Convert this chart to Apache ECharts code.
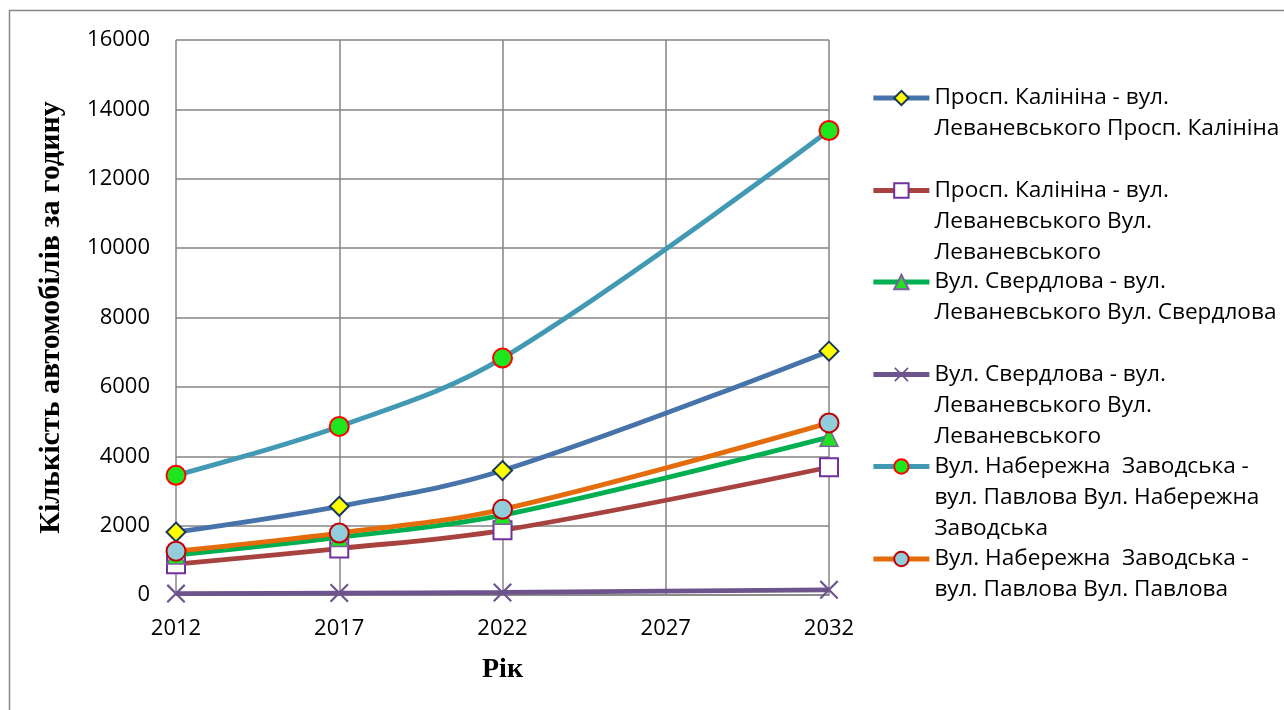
<!DOCTYPE html>
<html>
<head>
<meta charset="utf-8">
<script src="https://cdn.jsdelivr.net/npm/echarts@6/dist/echarts.min.js"></script>
<style>
  html, body { margin: 0; padding: 0; background: #ffffff; }
  #chart { width: 1284px; height: 710px; }
</style>
</head>
<body>
<div id="chart"></div>
<script>
// Years of observation / forecast
const years = [2012, 2017, 2022, 2032];
const yearTicks = [2012, 2017, 2022, 2027, 2032];

// Traffic volume, cars per hour
const kalininaKalinina = [1815, 2557, 3587, 7030];
const kalininaLevanevskoho = [890, 1340, 1865, 3683];
const sverdlovaSverdlova = [1150, 1660, 2300, 4550];
const sverdlovaLevanevskoho = [40, 55, 75, 150];
const naberezhnaNaberezhna = [3450, 4860, 6830, 13390];
const naberezhnaPavlova = [1264, 1787, 2470, 4961];

// Series names and their wrapped legend captions
const names = [
  'Просп. Калініна - вул. Леваневського Просп. Калініна',
  'Просп. Калініна - вул. Леваневського Вул. Леваневського',
  'Вул. Свердлова - вул. Леваневського Вул. Свердлова',
  'Вул. Свердлова - вул. Леваневського Вул. Леваневського',
  'Вул. Набережна  Заводська - вул. Павлова Вул. Набережна Заводська',
  'Вул. Набережна  Заводська - вул. Павлова Вул. Павлова'
];
const captions = [
  ['Просп. Калініна - вул.', 'Леваневського Просп. Калініна'],
  ['Просп. Калініна - вул.', 'Леваневського Вул.', 'Леваневського'],
  ['Вул. Свердлова - вул.', 'Леваневського Вул. Свердлова'],
  ['Вул. Свердлова - вул.', 'Леваневського Вул.', 'Леваневського'],
  ['Вул. Набережна  Заводська -', 'вул. Павлова Вул. Набережна', 'Заводська'],
  ['Вул. Набережна  Заводська -', 'вул. Павлова Вул. Павлова']
];

const yTitle = 'Кількість автомобілів за годину';
const xTitle = 'Рік';

const values = [kalininaKalinina, kalininaLevanevskoho, sverdlovaSverdlova,
  sverdlovaLevanevskoho, naberezhnaNaberezhna, naberezhnaPavlova];

const crossPath = 'path://M0,0.8L0.8,0L10,9.2L9.2,10Z M9.2,0L10,0.8L0.8,10L0,9.2Z';

const looks = [
  { line: '#4674AA', symbol: 'diamond', size: 19, fill: '#FFFF00', border: '#17375E', bw: 2 },
  { line: '#A8423F', symbol: 'rect', size: 18, fill: '#FFFFFF', border: '#7030A0', bw: 2 },
  { line: '#00B050', symbol: 'triangle', size: 18, fill: '#22E022', border: '#7F5FA0', bw: 1.5 },
  { line: '#6E548D', symbol: crossPath, size: 19, fill: '#6E548D', border: '#6E548D', bw: 0 },
  { line: '#4299B3', symbol: 'circle', size: 19, fill: '#1EE61E', border: '#FF0000', bw: 2 },
  { line: '#E46C0A', symbol: 'circle', size: 19, fill: '#92CDDC', border: '#C00000', bw: 2 }
];

const series = names.map((name, i) => ({
  name: name,
  type: 'line',
  smooth: 0.35,
  data: years.map((y, k) => [y, values[i][k]]),
  symbol: looks[i].symbol,
  symbolSize: looks[i].size,
  showAllSymbol: true,
  clip: false,
  lineStyle: { color: looks[i].line, width: 4.8 },
  itemStyle: {
    color: looks[i].fill,
    borderColor: looks[i].border,
    borderWidth: looks[i].bw
  },
  emphasis: { disabled: true },
  z: 2 + i
}));

const font = '"Open Sans", "Noto Sans", sans-serif';
const lineH = 31;
const iconCenters = [98, 190.5, 282, 374.5, 466.5, 559];

// Each caption is padded with blank lines above so that its first line
// sits level with the legend icon.
const legends = names.map((name, i) => {
  const n = captions[i].length;
  const lines = new Array(n - 1).fill('').concat(captions[i]);
  const h = lines.length * lineH;
  return {
    data: [name],
    left: 871,
    top: iconCenters[i] - h / 2,
    orient: 'vertical',
    padding: 0,
    itemWidth: 56,
    itemHeight: 18,
    itemGap: 0,
    selectedMode: false,
    lineStyle: { width: 4.8 },
    formatter: () => lines.join('\n'),
    textStyle: {
      fontFamily: font,
      fontSize: 22.6,
      lineHeight: lineH,
      color: '#000000'
    }
  };
});

const chart = echarts.init(document.getElementById('chart'), null, { renderer: 'canvas' });
chart.setOption({
  animation: false,
  backgroundColor: '#ffffff',
  graphic: [{
    type: 'rect',
    shape: { x: 9.5, y: 10.5, width: 1400, height: 800 },
    style: { fill: 'none', stroke: '#888888', lineWidth: 1.5 },
    silent: true,
    z: 0
  }],
  grid: { left: 176, right: 455, top: 40, bottom: 115, containLabel: false },
  legend: legends,
  xAxis: {
    type: 'value',
    min: 2012,
    max: 2032,
    interval: 5,
    name: xTitle,
    nameLocation: 'middle',
    nameGap: 61,
    nameTextStyle: { fontFamily: '"Liberation Serif", serif', fontWeight: 'bold', fontSize: 28, color: '#000' },
    axisLine: { show: true, lineStyle: { color: '#858585', width: 1.5 } },
    axisTick: { show: false },
    axisLabel: {
      margin: 23,
      fontFamily: font, fontSize: 22, color: '#000',
      formatter: v => yearTicks.includes(v) ? String(v) : ''
    },
    splitLine: { show: true, lineStyle: { color: '#858585', width: 1.5 } }
  },
  yAxis: {
    type: 'value',
    min: 0,
    max: 16000,
    interval: 2000,
    name: yTitle,
    nameLocation: 'middle',
    nameGap: 110,
    nameRotate: 90,
    nameTextStyle: { fontFamily: '"Liberation Serif", serif', fontWeight: 'bold', fontSize: 30, color: '#000' },
    axisLine: { show: false },
    axisTick: { show: false },
    axisLabel: {
      margin: 26, fontFamily: font, fontSize: 22, color: '#000',
      formatter: v => String(v)
    },
    splitLine: { show: true, lineStyle: { color: '#858585', width: 1.5 } }
  },
  series: series
});
</script>
</body>
</html>
